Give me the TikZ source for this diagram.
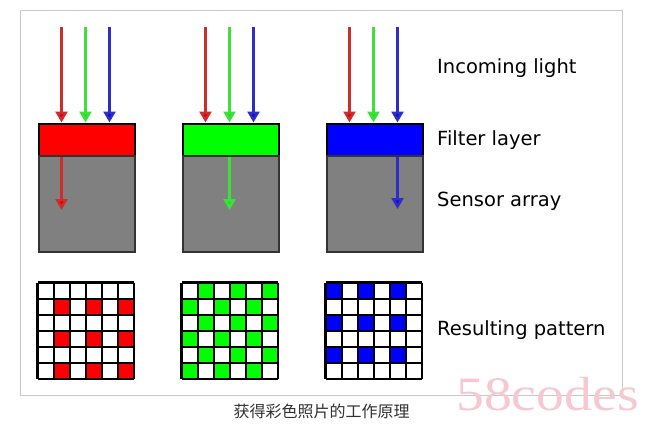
\documentclass[tikz,border=0pt]{standalone}
\usepackage{fontspec}
\setmainfont{DejaVu Sans}
\newfontfamily\cjk{Noto Sans CJK SC}
\newfontfamily\wmfont{Liberation Serif}
\usetikzlibrary{arrows.meta}
\definecolor{fred}{RGB}{255,0,0}
\definecolor{fgreen}{RGB}{0,255,0}
\definecolor{fblue}{RGB}{0,0,255}
\definecolor{sgray}{RGB}{128,128,128}
\definecolor{lred}{RGB}{205,45,45}
\definecolor{lgreen}{RGB}{60,225,60}
\definecolor{lblue}{RGB}{45,45,200}
\definecolor{tred}{RGB}{225,0,0}
\definecolor{tgreen}{RGB}{30,225,30}
\definecolor{tblue}{RGB}{15,15,205}
\definecolor{framegray}{RGB}{200,200,200}
\definecolor{wmpink}{RGB}{246,200,208}
\definecolor{capgray}{RGB}{50,50,50}
\tikzset{
  filterbox/.style={draw=black,line width=2pt,minimum width=96.5pt,minimum height=32.5pt,inner sep=0pt,anchor=north west},
  sensorbox/.style={draw=black!80,fill=sgray,line width=2pt,minimum width=96.5pt,minimum height=95.5pt,inner sep=0pt,anchor=north west},
  rarrow/.style={draw=lred,line width=2.4pt,-{Triangle[length=11pt,width=12pt,fill=tred]}},
  garrow/.style={draw=lgreen,line width=2.4pt,-{Triangle[length=11pt,width=12pt,fill=tgreen]}},
  barrow/.style={draw=lblue,line width=2.4pt,-{Triangle[length=11pt,width=12pt,fill=tblue]}},
  lbl/.style={anchor=base west,inner sep=0pt,font=\fontsize{19.5}{23}\selectfont,text=black},
  gridline/.style={draw=black,line width=2.2pt,line cap=square},
}
\begin{document}
\begin{tikzpicture}[x=1pt,y=-1pt]
\useasboundingbox (0,0) rectangle (655,426);
\fill[white] (0,0) rectangle (655,426);
\draw[framegray,line width=0.8pt] (20,10) rectangle (622,395);

% column blocks
\foreach \k/\col in {0/fred,1/fgreen,2/fblue}{
  \pgfmathsetmacro\L{37.5+144*\k}
  \node[filterbox,fill=\col] (f\k) at (\L,122.5) {};
  \node[sensorbox] (s\k) at (\L,155) {};
  \coordinate (r\k) at (\L+24,27);
  \coordinate (g\k) at (\L+48,27);
  \coordinate (b\k) at (\L+72,27);
  \draw[rarrow] (r\k) -- (r\k |- f\k.north);
  \draw[garrow] (g\k) -- (g\k |- f\k.north);
  \draw[barrow] (b\k) -- (b\k |- f\k.north);
}
\coordinate (rt) at (61.5,210);
\coordinate (gt) at (229.5,210);
\coordinate (bt) at (397.5,209);
\draw[rarrow] (rt |- f0.south) -- (rt);
\draw[garrow] (gt |- f1.south) -- (gt);
\draw[barrow] (bt |- f2.south) -- (bt);

% patterns
\def\cs{16.1}
\def\gy{282.5}
% red
\foreach \i in {1,3,5}{\foreach \j in {1,3,5}{
  \fill[fred] (37.5+\i*\cs,\gy+\j*\cs) rectangle ++(\cs,\cs);}}
% green
\foreach \i in {0,...,5}{\foreach \j in {0,...,5}{
  \pgfmathtruncatemacro\p{mod(\i+\j,2)}
  \ifnum\p=1 \fill[fgreen] (181.5+\i*\cs,\gy+\j*\cs) rectangle ++(\cs,\cs);\fi}}
% blue
\foreach \i in {0,2,4}{\foreach \j in {0,2,4}{
  \fill[fblue] (325.5+\i*\cs,\gy+\j*\cs) rectangle ++(\cs,\cs);}}
\foreach \L in {37.5,181.5,325.5}{
  \foreach \m in {0,...,6}{
    \draw[gridline] (\L+\m*\cs,\gy) -- ++(0,6*\cs);
    \draw[gridline] (\L,\gy+\m*\cs) -- ++(6*\cs,0);
  }
}

% labels
\node[lbl] (inc) at (437,73.3) {Incoming light};
\node[lbl] (fil) at (437,145) {Filter layer};
\node[lbl] (sen) at (437,206.7) {Sensor array};
\node[lbl] (res) at (437,335.7) {Resulting pattern};

% caption and watermark
\node[inner sep=0pt,text=capgray,font=\cjk\fontsize{16}{18}\selectfont] (cap) at (321.5,411.5) {获得彩色照片的工作原理};
\node[anchor=base west,inner sep=0pt,text=wmpink,font=\wmfont\fontsize{48}{50}\selectfont] (wm) at (456,410) {\scalebox{1.16}[1]{58codes}};
\end{tikzpicture}
\end{document}
